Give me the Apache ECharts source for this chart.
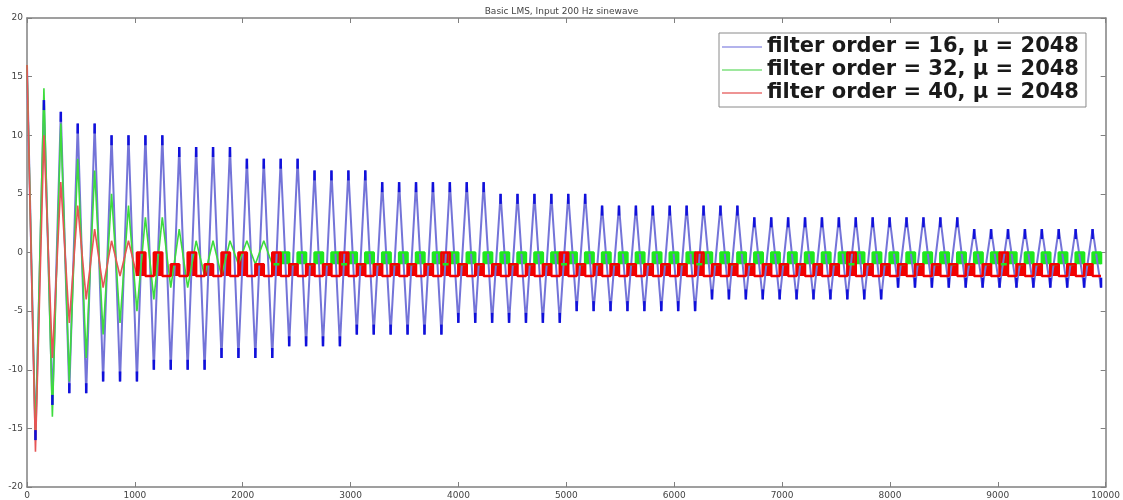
<!DOCTYPE html>
<html>
<head>
<meta charset="utf-8">
<title>Basic LMS, Input 200 Hz sinewave</title>
<script src="https://cdn.jsdelivr.net/npm/echarts@6/dist/echarts.min.js"></script>
<style>
  html, body { margin: 0; padding: 0; background: #fff; }
  #chart { width: 1123px; height: 500px; }
</style>
</head>
<body>
<div id="chart"></div>
<script>
// samples between a peak and the following trough (from the blue peak spacing)
const halfPeriod = 78.4;

const xTicks = [0, 1000, 2000, 3000, 4000, 5000, 6000, 7000, 8000, 9000, 10000];
const yTicks = [-20, -15, -10, -5, 0, 5, 10, 15, 20];

const names = [
    'filter order = 16, \u03bc = 2048',
    'filter order = 32, \u03bc = 2048',
    'filter order = 40, \u03bc = 2048'
];

// peaks: first entry is the start value at x = 0, then one per cycle
// troughs: one per cycle
const bluePeaks = [16, 13, 12, 11, 11, 10, 10, 10, 10, 9, 9, 9, 9, 8, 8, 8, 8, 7, 7, 7, 7,
    6, 6, 6, 6, 6, 6, 6, 5, 5, 5, 5, 5, 5, 4, 4, 4, 4, 4, 4, 4, 4, 4,
    3, 3, 3, 3, 3, 3, 3, 3, 3, 3, 3, 3, 3, 2, 2, 2, 2, 2, 2, 2, 2];
const blueTroughs = [-16, -13, -12, -12, -11, -11, -11, -10, -10, -10, -10, -9, -9, -9, -9,
    -8, -8, -8, -8, -7, -7, -7, -7, -7, -7, -6, -6, -6, -6, -6, -6, -6,
    -5, -5, -5, -5, -5, -5, -5, -5, -4, -4, -4, -4, -4, -4, -4, -4, -4, -4, -4,
    -3, -3, -3, -3, -3, -3, -3, -3, -3, -3, -3, -3, -3];

const greenPeaks = [16, 14, 11, 8, 7, 5, 4, 3, 3, 2, 1, 1, 1, 1, 1,
    0, 0, 0, 0, 0, 0, 0, 0, 0, 0, 0, 0, 0, 0, 0, 0, 0, 0, 0, 0, 0, 0, 0, 0,
    0, 0, 0, 0, 0, 0, 0, 0, 0, 0, 0, 0, 0, 0, 0, 0, 0, 0, 0, 0, 0, 0, 0, 0, 0];
const greenTroughs = [-16, -14, -11, -9, -7, -6, -5, -4, -3, -3, -2, -2,
    -1, -1, -1, -1, -1, -1, -1, -1, -1, -1, -1, -1, -1, -1, -1, -1, -1, -1, -1, -1,
    -1, -1, -1, -1, -1, -1, -1, -1, -1, -1, -1, -1, -1, -1, -1, -1, -1, -1, -1, -1,
    -1, -1, -1, -1, -1, -1, -1, -1, -1, -1, -1, -1];

const redPeaks = [16, 10, 6, 4, 2, 1, 1, 0, 0, -1, 0, -1, 0, 0, -1, 0, -1,
    -1, -1, 0, -1, -1, -1, -1, -1, 0, -1, -1, -1, -1, -1, -1, 0, -1, -1, -1, -1,
    -1, -1, -1, 0, -1, -1, -1, -1, -1, -1, -1, -1, 0, -1, -1, -1, -1, -1, -1,
    -1, -1, 0, -1, -1, -1, -1, -1];
const redTroughs = [-17, -9, -6, -4, -3, -2,
    -2, -2, -2, -2, -2, -2, -2, -2, -2, -2, -2, -2, -2, -2, -2, -2, -2, -2, -2, -2, -2,
    -2, -2, -2, -2, -2, -2, -2, -2, -2, -2, -2, -2, -2, -2, -2, -2, -2, -2, -2, -2,
    -2, -2, -2, -2, -2, -2, -2, -2, -2, -2, -2, -2, -2, -2, -2, -2, -2];

// where green / red settle into the small quantised toggle (index in the extreme list)
const greenSettle = 29;
const redSettle = 13;

function extremes(peaks, troughs) {
    const pts = [];
    for (let i = 0; i < peaks.length; i++) {
        pts.push([+(2 * i * halfPeriod).toFixed(1), peaks[i]]);
        if (i < troughs.length) pts.push([+((2 * i + 1) * halfPeriod).toFixed(1), troughs[i]]);
    }
    return pts;
}

const bluePts = extremes(bluePeaks, blueTroughs);
const greenPts = extremes(greenPeaks, greenTroughs);
const redPts = extremes(redPeaks, redTroughs);

// dark flat tips of the blue staircase
const blueData = bluePts.map((p, j) => {
    const item = { value: p, symbolOffset: [0, j % 2 === 0 ? 5 : -5] };
    if (j === 0) item.symbol = 'none';
    return item;
});

const font = 'DejaVu Sans';
const axisGray = '#808080';

const chart = echarts.init(document.getElementById('chart'));

const tickAxis = (extra) => Object.assign({
    type: 'value',
    axisLine: { show: true, onZero: false, lineStyle: { color: axisGray, width: 1.5 } },
    axisTick: { show: true, inside: true, length: 5, lineStyle: { color: axisGray, width: 1 } },
    splitLine: { show: false }
}, extra);

const tickLabel = { fontFamily: font, fontSize: 9, color: '#444', margin: 4, formatter: (v) => String(v) };

const option = {
    animation: false,
    backgroundColor: '#fff',
    title: {
        text: 'Basic LMS, Input 200 Hz sinewave',
        left: 'center',
        top: 2,
        textStyle: { fontFamily: font, fontSize: 9, fontWeight: 'normal', color: '#444' }
    },
    legend: {
        orient: 'vertical',
        left: 719,
        top: 33,
        padding: [3, 7, 3, 3],
        itemGap: 1,
        itemWidth: 40,
        itemHeight: 1.5,
        icon: 'rect',
        borderColor: '#8a8a8a',
        borderWidth: 1,
        backgroundColor: '#fff',
        textStyle: { fontFamily: font, fontSize: 21, fontWeight: 'bold', color: '#1a1a1a', lineHeight: 22 },
        data: [
            { name: names[0], itemStyle: { color: '#9a9ae6' } },
            { name: names[1], itemStyle: { color: '#7ee07e' } },
            { name: names[2], itemStyle: { color: '#e87070' } }
        ]
    },
    grid: { left: 27, right: 16, top: 18, bottom: 13 },
    xAxis: [
        tickAxis({
            min: xTicks[0], max: xTicks[xTicks.length - 1], interval: xTicks[1] - xTicks[0],
            position: 'bottom', axisLabel: tickLabel
        }),
        tickAxis({
            min: xTicks[0], max: xTicks[xTicks.length - 1], interval: xTicks[1] - xTicks[0],
            position: 'top', axisLabel: { show: false }
        })
    ],
    yAxis: [
        tickAxis({
            min: yTicks[0], max: yTicks[yTicks.length - 1], interval: yTicks[1] - yTicks[0],
            position: 'left', axisLabel: tickLabel
        }),
        tickAxis({
            min: yTicks[0], max: yTicks[yTicks.length - 1], interval: yTicks[1] - yTicks[0],
            position: 'right', axisLabel: { show: false }
        })
    ],
    series: [
        {
            name: names[0], type: 'line', data: blueData,
            symbol: 'rect', symbolSize: [2.5, 10], showSymbol: true, showAllSymbol: true,
            itemStyle: { color: '#1010dc' },
            lineStyle: { color: '#7474d8', width: 2 }
        },
        {
            name: names[1], type: 'line', data: greenPts.slice(0, greenSettle + 1),
            symbol: 'none', itemStyle: { color: '#3ddc3d' },
            lineStyle: { color: '#3ddc3d', width: 1.6 }
        },
        {
            name: names[1], type: 'line', data: greenPts.slice(greenSettle),
            symbol: 'none', step: 'end', itemStyle: { color: '#1ee81e' },
            lineStyle: { color: '#1ee81e', width: 2.5 },
            areaStyle: { color: '#1ee81e', opacity: 1, origin: -1 }
        },
        {
            name: names[2], type: 'line', data: redPts.slice(0, redSettle + 1),
            symbol: 'none', itemStyle: { color: '#e65555' },
            lineStyle: { color: '#e65555', width: 1.6 }
        },
        {
            name: names[2], type: 'line', data: redPts.slice(redSettle),
            symbol: 'none', step: 'start', itemStyle: { color: '#f20000' },
            lineStyle: { color: '#f20000', width: 2.5 },
            areaStyle: { color: '#f20000', opacity: 1, origin: -2 }
        }
    ]
};

chart.setOption(option);
</script>
</body>
</html>
